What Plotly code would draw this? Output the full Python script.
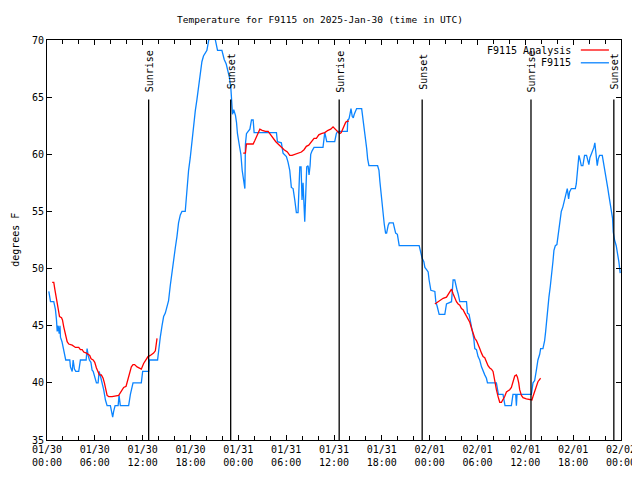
import datetime as dt
import plotly.graph_objects as go

BASE = dt.datetime(2025, 1, 30, 0, 0)

# Observed station temperatures (hours after 01/30 00:00 UTC, deg F)
obs_hours = [0.23, 0.44, 0.85, 1.06, 1.19, 1.28, 1.40, 1.53, 1.63, 1.69, 1.88, 2.03, 2.19, 2.35, 2.86, 2.94,
             3.16, 3.28, 3.44, 3.61, 3.98, 4.19, 4.91, 5.03, 5.16, 5.32, 5.51, 5.66, 5.79, 5.99, 6.20, 6.41,
             6.54, 6.70, 6.91, 7.11, 7.33, 7.54, 7.95, 8.08, 8.24, 8.36, 8.54, 8.92, 9.04, 9.20, 10.24, 10.46,
             10.79, 11.83, 12.00, 12.75, 12.84, 13.87, 14.00, 14.21, 14.43, 14.63, 14.84, 15.05, 15.25, 15.46,
             15.68, 15.88, 16.09, 16.30, 16.50, 16.72, 16.93, 17.34, 17.47, 17.56, 17.76, 17.97, 18.18, 18.38,
             18.60, 18.81, 19.01, 19.22, 19.43, 19.63, 20.06, 20.26, 20.47, 20.72, 20.97, 21.10, 21.39, 21.94,
             22.06, 22.23, 22.48, 22.64, 22.89, 23.07, 23.19, 23.27, 23.42, 23.64, 23.77, 23.89, 24.10, 24.32,
             24.48, 24.73, 24.82, 24.89, 25.02, 25.23, 25.45, 25.65, 25.86, 25.98, 28.78, 28.90, 29.40, 29.61,
             30.03, 30.24, 30.45, 30.65, 30.87, 31.08, 31.28, 31.49, 31.62, 31.71, 31.87, 31.99, 32.12, 32.24,
             32.33, 32.43, 32.58, 32.75, 32.87, 33.00, 33.08, 33.25, 33.50, 34.62, 34.75, 34.84, 34.94, 35.09,
             36.09, 36.29, 36.46, 37.67, 37.72, 37.88, 38.00, 38.13, 38.29, 38.42, 38.54, 38.72, 38.84, 39.47,
             39.60, 39.76, 39.97, 40.10, 40.22, 40.38, 41.47, 41.64, 41.76, 41.89, 42.01, 42.17, 42.30, 42.47,
             42.60, 42.80, 42.93, 43.43, 43.55, 43.73, 43.95, 44.18, 46.68, 46.86, 46.98, 47.06, 47.27, 47.40,
             47.61, 47.81, 47.93, 48.15, 48.65, 48.77, 48.94, 49.06, 49.19, 49.90, 50.11, 50.74, 50.86, 50.94,
             51.15, 51.28, 51.44, 51.57, 51.78, 52.62, 52.74, 52.94, 53.12, 53.24, 53.37, 53.53, 53.66, 53.87,
             54.07, 54.28, 54.50, 54.70, 54.91, 55.12, 55.25, 56.37, 56.50, 56.62, 57.20, 57.33, 57.45, 58.25,
             58.45, 58.79, 58.88, 58.96, 60.76, 60.96, 61.17, 61.38, 61.58, 61.80, 61.92, 62.21, 62.42, 62.55,
             62.67, 62.84, 62.96, 63.14, 63.34, 63.46, 63.59, 63.76, 63.96, 64.09, 64.21, 64.34, 64.51, 64.71,
             64.84, 65.01, 65.14, 65.26, 65.43, 65.55, 65.77, 66.27, 66.39, 66.52, 66.59, 66.72, 66.84, 67.02,
             67.22, 67.31, 67.43, 67.68, 67.81, 67.97, 68.10, 68.27, 68.47, 68.60, 68.72, 68.90, 69.02, 69.15,
             69.31, 69.65, 69.81, 69.94, 70.06, 70.19, 70.35, 70.48, 70.65, 70.77, 70.94, 71.03, 71.19, 71.40,
             71.60, 71.73, 71.90]
obs_temps = [48.0, 47.1, 47.1, 46.4, 45.5, 44.5, 45.0, 44.3, 45.0, 44.0, 43.6, 43.1, 42.3, 42.0, 42.0, 41.4,
             41.0, 42.0, 41.2, 41.0, 41.0, 42.0, 42.0, 43.0, 42.4, 42.0, 41.8, 41.1, 41.0, 40.5, 40.0, 40.0,
             41.0, 40.6, 40.0, 39.4, 38.5, 38.0, 38.0, 37.5, 37.0, 37.5, 38.0, 38.0, 38.9, 38.0, 38.0, 39.0,
             40.0, 40.0, 41.0, 41.0, 42.0, 42.0, 43.0, 44.0, 45.0, 45.8, 46.1, 46.6, 47.2, 48.5,
             49.8, 50.6, 51.8, 52.8, 54.0, 54.7, 55.0, 55.0, 56.3, 57.5, 58.6, 59.7, 61.3, 62.6,
             63.8, 64.8, 65.9, 67.1, 68.1, 68.6, 69.1, 69.9, 70.5, 71.0, 70.5, 70.0, 69.1, 69.1,
             68.7, 68.3, 67.9, 67.4, 66.7, 65.7, 64.7, 63.5, 63.9, 63.4, 62.8, 61.8, 60.9, 60.0,
             58.6, 57.0, 57.0, 60.9, 61.8, 62.0, 62.2, 63.0, 63.0, 61.9, 61.9, 61.1, 61.0, 60.1,
             59.8, 59.3, 58.6, 57.1, 57.0, 56.0, 54.9, 54.9, 57.0, 58.9, 58.9, 56.0, 57.5, 55.0,
             54.1, 56.0, 58.9, 59.0, 58.2, 59.0, 60.0, 60.3, 60.6, 60.6, 61.8, 61.9, 61.6, 61.1,
             61.1, 61.8, 62.0, 62.0, 63.0, 63.1, 63.5, 64.0, 63.3, 63.2, 63.5, 63.9, 64.0, 64.0,
             63.3, 62.7, 61.5, 60.5, 59.6, 59.0, 59.0, 58.6, 57.6, 56.6, 55.5, 54.5, 53.9, 53.1,
             53.1, 53.8, 54.0, 54.0, 53.6, 53.1, 53.0, 52.0, 52.0, 51.5, 51.0, 50.9, 50.6, 50.1,
             49.9, 49.7, 49.0, 48.1, 48.0, 47.1, 46.7, 46.2, 46.0, 46.0, 46.9, 47.1, 48.0, 49.0,
             49.0, 48.4, 48.1, 47.8, 47.1, 47.1, 46.1, 46.0, 45.3, 44.9, 44.4, 43.9, 43.0, 42.9,
             42.3, 42.0, 41.4, 41.0, 40.7, 40.4, 40.0, 40.0, 39.5, 39.0, 39.0, 38.5, 38.0, 38.0,
             39.0, 39.0, 38.0, 39.0, 39.0, 40.0, 40.2, 41.1, 42.0, 42.5, 43.0, 43.0, 43.7, 44.5,
             45.5, 46.2, 47.5, 48.5, 49.6, 50.6, 51.6, 52.0, 52.1, 52.8, 53.5, 54.5, 55.0, 55.4,
             55.8, 56.3, 56.7, 57.0, 56.1, 56.7, 57.0, 57.0, 57.4, 58.6, 59.5, 59.9, 59.6, 59.0,
             59.0, 59.5, 59.9, 59.9, 59.5, 59.1, 59.7, 60.0, 60.2, 60.6, 61.0, 60.0, 59.0, 59.6,
             59.9, 59.9, 59.3, 58.7, 58.3, 57.7, 57.0, 56.4, 55.7, 54.9, 54.4, 53.2, 52.5, 52.0,
             51.3, 50.6, 49.6]

# Analysis series (None marks a gap)
ana_hours = [0.65, 0.85, 0.98, 1.15, 1.35, 1.57, 1.82, 1.94, 2.10, 2.32, 2.53, 2.73, 3.16, 3.57, 3.98, 4.19,
             4.41, 4.61, 4.95, 5.36, 5.53, 5.79, 5.99, 6.20, 6.57, 6.82, 7.04, 7.20, 7.36, 7.54, 7.74, 8.16,
             8.99, 9.20, 9.42, 9.62, 9.92, 10.12, 10.37, 10.58, 10.79, 10.99, 11.30, 11.50, 11.83, 12.12,
             12.46, 12.67, 12.96, 13.37, 13.59, 13.71, 13.80,
             19.0,
             24.61, 24.89, 25.02, 25.86, 26.07, 26.40, 26.70, 26.99, 27.40, 27.74, 27.95, 28.24, 28.49, 28.70,
             28.99, 29.49, 29.74, 30.15, 30.45, 30.74, 31.08, 31.49, 31.91, 32.24, 32.53, 32.83, 33.16, 33.50,
             33.79, 34.09, 34.41, 34.84, 35.25, 35.59, 35.88, 36.16, 36.50, 36.71, 36.91, 37.13, 37.34, 37.47,
             37.67, 37.88,
             43.0,
             48.65, 49.06, 49.36, 49.69, 50.11, 50.31, 50.53, 50.74, 50.94, 51.15, 51.36, 51.57, 51.78, 51.99,
             52.19, 52.41, 52.62, 52.82, 53.03, 53.24, 53.44, 53.66, 53.87, 54.07, 54.28, 54.50, 54.70, 54.91,
             55.12, 55.32, 55.54, 55.75, 55.95, 56.16, 56.37, 56.58, 56.79, 57.00, 57.20, 57.41, 57.63, 57.83,
             58.04, 58.25, 58.45, 58.67, 58.88, 59.01, 59.17, 59.29, 59.51, 59.71, 60.13, 60.55, 60.83, 60.96,
             61.17, 61.38, 61.58, 61.80, 61.92]
ana_temps = [48.8, 48.8, 48.2, 47.5, 46.5, 45.8, 45.7, 45.5, 44.9, 44.2, 43.6, 43.4, 43.3, 43.1, 43.1, 42.9,
             42.9, 42.7, 42.6, 42.4, 42.1, 42.0, 41.8, 41.3, 40.7, 40.7, 40.4, 40.0, 39.4, 38.9, 38.8, 38.8,
             38.9, 39.1, 39.4, 39.6, 39.7, 40.2, 40.8, 41.4, 41.6, 41.6, 41.4, 41.3, 41.2, 41.7,
             42.1, 42.3, 42.4, 42.6, 42.8, 43.4, 43.9,
             None,
             60.1, 60.1, 60.9, 60.9, 61.2, 61.8, 62.2, 62.1, 62.0, 62.0, 61.8, 61.5, 61.2, 61.1,
             60.9, 60.5, 60.4, 60.2, 59.9, 59.9, 60.0, 60.1, 60.2, 60.4, 60.7, 60.8, 61.1, 61.4,
             61.4, 61.7, 61.8, 61.9, 62.1, 62.2, 62.4, 62.2, 61.9, 61.8, 61.9, 62.2, 62.5, 62.8,
             62.9, 62.9,
             None,
             46.9, 47.1, 47.2, 47.4, 47.5, 47.7, 48.0, 48.2, 47.8, 47.4, 47.1, 46.9, 46.8, 46.5,
             46.4, 46.1, 45.8, 45.5, 45.3, 44.8, 44.3, 43.9, 43.7, 43.4, 43.0, 42.6, 42.3, 42.2,
             41.8, 41.5, 41.3, 41.2, 41.0, 40.1, 39.4, 38.8, 38.3, 38.3, 38.5, 38.8, 39.2, 39.3,
             39.4, 39.6, 40.1, 40.6, 40.7, 40.5, 40.0, 39.4, 38.9, 38.7, 38.6, 38.5, 38.5, 38.8,
             39.2, 39.7, 40.1, 40.3, 40.4]

# Sun events (hours after 01/30 00:00 UTC)
event_hours = [12.75, 23.04, 36.65, 47.06, 60.71, 71.10]
event_names = ["Sunrise", "Sunset", "Sunrise", "Sunset", "Sunrise", "Sunset"]

legend_names = ["F9115 Analysis", "F9115"]
RED = "#ff0000"
BLUE = "#0a84ff"
FONT = "DejaVu Sans Mono"

# The page body has an 8px margin, so the figure is made 8px smaller and margins reduced.
W, H = 632, 472


def to_time(h):
    return BASE + dt.timedelta(hours=h)


fig = go.Figure()
fig.add_trace(go.Scatter(x=[to_time(h) for h in obs_hours], y=obs_temps, mode="lines",
                         line=dict(color=BLUE, width=1.3), name=legend_names[1]))
fig.add_trace(go.Scatter(x=[to_time(h) for h in ana_hours], y=ana_temps, mode="lines",
                         connectgaps=False, line=dict(color=RED, width=1.3), name=legend_names[0]))

LINE_TOP = 0.851
for h, name in zip(event_hours, event_names):
    t = to_time(h)
    fig.add_shape(type="line", xref="x", yref="paper", x0=t, x1=t, y0=0, y1=LINE_TOP,
                  line=dict(color="black", width=1.3))
    fig.add_annotation(x=t, xref="x", y=0.921, yref="paper", text=name, textangle=-90,
                       showarrow=False, xanchor="center", yanchor="middle", xshift=1,
                       font=dict(family=FONT, size=10, color="black"))

# Legend (text left of the line sample, as in the original)
leg_y = [0.975, 0.943]
for name, col, yy in zip(legend_names, [RED, BLUE], leg_y):
    fig.add_annotation(x=0.916, xref="paper", y=yy, yref="paper", text=name, showarrow=False,
                       xanchor="right", yanchor="middle", font=dict(family=FONT, size=10, color="black"))
    fig.add_shape(type="line", xref="paper", yref="paper", x0=0.930, x1=0.979, y0=yy, y1=yy,
                  line=dict(color=col, width=1.3))

fig.add_annotation(x=-0.056, xref="paper", y=0.5, yref="paper", text="degrees F", textangle=-90,
                   showarrow=False, xanchor="center", yanchor="middle",
                   font=dict(family=FONT, size=10, color="black"))

fig.update_layout(
    width=W, height=H,
    margin=dict(l=38.5, r=18.5, t=31.5, b=40, autoexpand=False),
    paper_bgcolor="white", plot_bgcolor="white",
    showlegend=False,
    title=dict(text="Temperature for F9115 on 2025-Jan-30 (time in UTC)", x=(320 - 8) / W, xanchor="center",
               y=1 - 12 / H, yanchor="middle", yref="container",
               font=dict(family=FONT, size=9.5, color="black")),
    font=dict(family=FONT, size=10, color="black"),
)
fig.update_xaxes(
    type="date", range=[BASE, BASE + dt.timedelta(hours=72)],
    dtick=6 * 3600 * 1000, tick0=BASE, tickformat="%m/%d<br>%H:%M",
    ticks="inside", ticklen=5, tickcolor="black", tickwidth=1,
    minor=dict(dtick=2 * 3600 * 1000, ticks="inside", ticklen=4, tickcolor="black", tickwidth=1, showgrid=False),
    showline=True, linecolor="black", linewidth=1, mirror="ticks",
    showgrid=False, zeroline=False, automargin=False,
    tickfont=dict(family=FONT, size=10, color="black"),
)
fig.update_yaxes(
    range=[35, 70], dtick=5, tick0=35,
    ticks="inside", ticklen=5, tickcolor="black", tickwidth=1,
    showline=True, linecolor="black", linewidth=1, mirror="ticks",
    showgrid=False, zeroline=False, automargin=False,
    tickfont=dict(family=FONT, size=10, color="black"),
)

fig.write_html("out.html")
